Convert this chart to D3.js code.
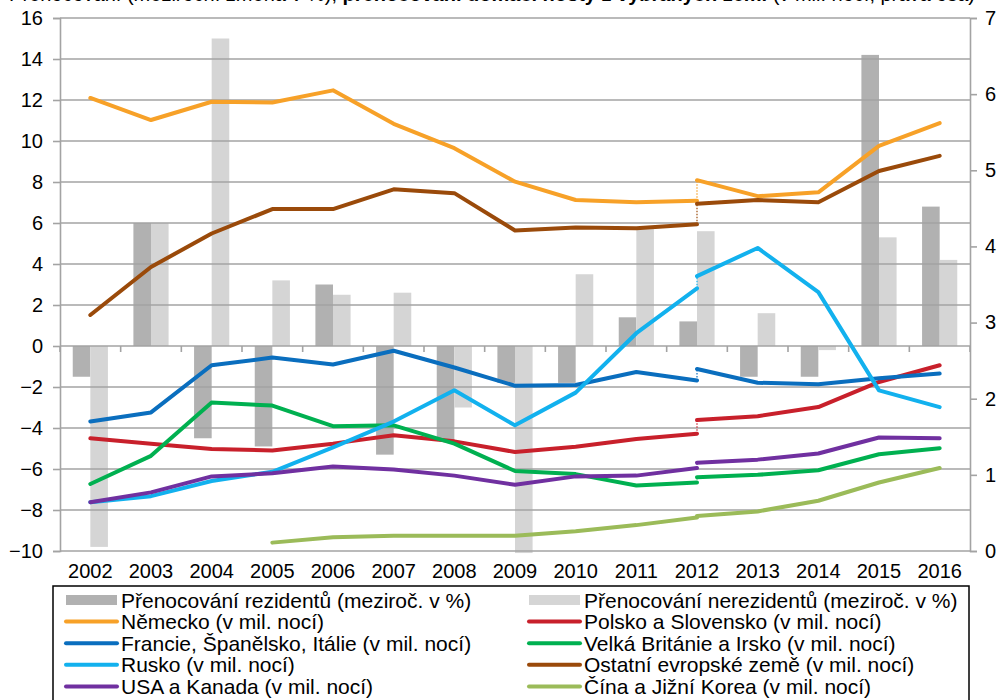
<!DOCTYPE html>
<html>
<head>
<meta charset="utf-8">
<script src="https://cdn.jsdelivr.net/npm/d3@7"></script>
<style>
  html, body { margin: 0; padding: 0; background: #fff; }
  svg { display: block; font-family: Arial, "Liberation Sans", sans-serif; }
</style>
</head>
<body>
<svg id="chart" width="999" height="700"></svg>
<script>
// Categories
const years = ['2002','2003','2004','2005','2006','2007','2008','2009','2010','2011','2012','2013','2014','2015','2016'];
const yearsOld = ['2002','2003','2004','2005','2006','2007','2008','2009','2010','2011','2012'];
const yearsNew = ['2012','2013','2014','2015','2016'];

// Year-on-year change of nights spent (%), left axis
const rezidenti   = [-1.5, 6.0, -4.5, -4.9, 3.0, -5.3, -4.6, -1.8, -1.8, 1.4, 1.2, -1.5, -1.5, 14.2, 6.8];
const nerezidenti = [-9.8, 6.0, 15.0, 3.2, 2.5, 2.6, -3.0, -10.1, 3.5, 5.7, 5.6, 1.6, -0.2, 5.3, 4.2];

// Nights spent by country (mil.), right axis; series break in 2012
const nemeckoOld   = [5.95, 5.66, 5.90, 5.89, 6.05, 5.61, 5.29, 4.85, 4.61, 4.58, 4.60];
const nemeckoNew   = [4.87, 4.66, 4.71, 5.32, 5.62];
const polskoOld    = [1.48, 1.41, 1.34, 1.32, 1.41, 1.52, 1.44, 1.30, 1.37, 1.47, 1.54];
const polskoNew    = [1.72, 1.77, 1.89, 2.22, 2.44];
const francieOld   = [1.70, 1.82, 2.44, 2.54, 2.45, 2.63, 2.41, 2.17, 2.18, 2.35, 2.24];
const francieNew   = [2.39, 2.21, 2.19, 2.27, 2.33];
const britanieOld  = [0.88, 1.25, 1.95, 1.91, 1.64, 1.65, 1.41, 1.05, 1.01, 0.86, 0.90];
const britanieNew  = [0.97, 1.00, 1.06, 1.27, 1.35];
const ruskoOld     = [0.64, 0.72, 0.92, 1.04, 1.36, 1.70, 2.11, 1.65, 2.08, 2.86, 3.45];
const ruskoNew     = [3.61, 3.98, 3.40, 2.11, 1.89];
const ostatniOld   = [3.10, 3.73, 4.17, 4.49, 4.49, 4.75, 4.70, 4.21, 4.25, 4.24, 4.29];
const ostatniNew   = [4.56, 4.61, 4.58, 4.99, 5.19];
const usaOld       = [0.64, 0.77, 0.98, 1.02, 1.11, 1.07, 0.99, 0.87, 0.98, 0.99, 1.09];
const usaNew       = [1.16, 1.20, 1.28, 1.49, 1.48];
const cinaOld      = [null, null, null, 0.11, 0.18, 0.20, 0.20, 0.20, 0.26, 0.34, 0.44];
const cinaNew      = [0.46, 0.52, 0.66, 0.90, 1.09];

// Axis ticks
const leftTicks  = [-10, -8, -6, -4, -2, 0, 2, 4, 6, 8, 10, 12, 14, 16];
const rightTicks = [0, 1, 2, 3, 4, 5, 6, 7];

// Legend labels
const barLabels = ['Přenocování rezidentů (meziroč. v %)', 'Přenocování nerezidentů (meziroč. v %)'];
const lineSeries = [
  { name: 'Německo (v mil. nocí)', color: '#F7A128', old: nemeckoOld, neu: nemeckoNew },
  { name: 'Polsko a Slovensko (v mil. nocí)', color: '#C8202B', old: polskoOld, neu: polskoNew },
  { name: 'Francie, Španělsko, Itálie (v mil. nocí)', color: '#0A6EBE', old: francieOld, neu: francieNew },
  { name: 'Velká Británie a Irsko (v mil. nocí)', color: '#00B050', old: britanieOld, neu: britanieNew },
  { name: 'Rusko (v mil. nocí)', color: '#12B1EE', old: ruskoOld, neu: ruskoNew },
  { name: 'Ostatní evropské země (v mil. nocí)', color: '#9A4A0A', old: ostatniOld, neu: ostatniNew },
  { name: 'USA a Kanada (v mil. nocí)', color: '#7030A0', old: usaOld, neu: usaNew },
  { name: 'Čína a Jižní Korea (v mil. nocí)', color: '#9BBB59', old: cinaOld, neu: cinaNew }
];
const barColors = ['#B1B1B1', '#D5D5D5'];

const svg = d3.select('#chart');
const plot = { left: 60, right: 970, top: 18, bottom: 551 };

const x = d3.scaleBand().domain(years).range([plot.left, plot.right])
  .paddingInner(0.42).paddingOuter(0.21);
const xSub = d3.scaleBand().domain(['rez', 'nerez']).range([0, x.bandwidth()]);
const yL = d3.scaleLinear().domain([-10, 16]).range([plot.bottom, plot.top]);
const yR = d3.scaleLinear().domain([0, 7]).range([plot.bottom, plot.top]);
const cx = yr => x(yr) + x.bandwidth() / 2;

// Title (runs above the top edge of the page)
const title = svg.append('text').attr('x', 975).attr('y', 1).attr('text-anchor', 'end')
  .attr('font-size', 20).attr('fill', '#000');
title.append('tspan').text('Přenocování (meziroční změna v %), ');
title.append('tspan').attr('font-weight', 'bold').text('přenocování domácí hosty z vybraných zemí ');
title.append('tspan').text('(v mil. nocí, pravá osa)');

// Bars
const barG = svg.append('g');
years.forEach((yr, i) => {
  [['rez', rezidenti[i], barColors[0]], ['nerez', nerezidenti[i], barColors[1]]].forEach(([k, v, c]) => {
    barG.append('rect')
      .attr('x', x(yr) + xSub(k))
      .attr('width', xSub.bandwidth())
      .attr('y', Math.min(yL(v), yL(0)))
      .attr('height', Math.abs(yL(v) - yL(0)))
      .attr('fill', c);
  });
});

// Gridlines
svg.append('g').selectAll('line').data(leftTicks).join('line')
  .attr('x1', plot.left).attr('x2', plot.right)
  .attr('y1', d => yL(d)).attr('y2', d => yL(d))
  .attr('stroke', '#A3A3A3').attr('stroke-width', 1.6);

// Left axis
const axL = svg.append('g').attr('transform', `translate(${plot.left},0)`)
  .call(d3.axisLeft(yL).tickValues(leftTicks).tickSize(7).tickPadding(10).tickFormat(d3.format('d')));
// Right axis
const axR = svg.append('g').attr('transform', `translate(${plot.right},0)`)
  .call(d3.axisRight(yR).tickValues(rightTicks).tickSize(7).tickPadding(8).tickFormat(d3.format('d')));
[axL, axR].forEach(a => {
  a.select('.domain').attr('stroke', '#A3A3A3').attr('stroke-width', 1.6);
  a.selectAll('.tick line').attr('stroke', '#A3A3A3').attr('stroke-width', 1.6);
  a.selectAll('.tick text').attr('font-size', 20).attr('fill', '#000')
    .attr('font-family', 'Arial, "Liberation Sans", sans-serif');
});

// Category axis on the zero line
const zeroY = yL(0);
svg.append('g').selectAll('line').data(d3.range(years.length + 1)).join('line')
  .attr('x1', i => plot.left + i * x.step()).attr('x2', i => plot.left + i * x.step())
  .attr('y1', zeroY).attr('y2', zeroY + 6)
  .attr('stroke', '#A3A3A3').attr('stroke-width', 1.6);
svg.append('g').selectAll('text').data(years).join('text')
  .attr('x', d => cx(d)).attr('y', 578).attr('text-anchor', 'middle')
  .attr('font-size', 20).attr('fill', '#000').text(d => d);

// Lines
const line = d3.line().defined(d => d[1] != null).x(d => cx(d[0])).y(d => yR(d[1]));
const lineG = svg.append('g').attr('fill', 'none');
lineSeries.forEach(s => {
  const oldPts = yearsOld.map((yr, i) => [yr, s.old[i]]);
  const newPts = yearsNew.map((yr, i) => [yr, s.neu[i]]);
  // break between the two methodologies in 2012
  lineG.append('line')
    .attr('x1', cx('2012')).attr('x2', cx('2012'))
    .attr('y1', yR(s.old[s.old.length - 1])).attr('y2', yR(s.neu[0]))
    .attr('stroke', s.color).attr('stroke-width', 1.2).attr('stroke-dasharray', '1.5,1.5');
  [oldPts, newPts].forEach(pts => {
    lineG.append('path').attr('d', line(pts))
      .attr('stroke', s.color).attr('stroke-width', 4)
      .attr('stroke-linejoin', 'round').attr('stroke-linecap', 'round');
  });
});

// Legend
const lg = svg.append('g');
lg.append('rect').attr('x', 53).attr('y', 586).attr('width', 916).attr('height', 130)
  .attr('fill', 'none').attr('stroke', '#000').attr('stroke-width', 1.5);
const legendItems = [
  { type: 'bar', name: barLabels[0], color: barColors[0] },
  { type: 'bar', name: barLabels[1], color: barColors[1] },
  ...lineSeries.map(s => ({ type: 'line', name: s.name, color: s.color }))
];
const colX = [66, 529];
legendItems.forEach((it, i) => {
  const cxl = colX[i % 2];
  const cy = 600 + Math.floor(i / 2) * 21.6;
  if (it.type === 'bar') {
    lg.append('rect').attr('x', cxl).attr('y', cy - 5).attr('width', 51).attr('height', 10).attr('fill', it.color);
  } else {
    lg.append('line').attr('x1', cxl).attr('x2', cxl + 51).attr('y1', cy).attr('y2', cy)
      .attr('stroke', it.color).attr('stroke-width', 4).attr('stroke-linecap', 'round');
  }
  lg.append('text').attr('x', cxl + 55).attr('y', cy).attr('dy', '0.36em')
    .attr('font-size', 21).attr('fill', '#000').text(it.name);
});
</script>
</body>
</html>
